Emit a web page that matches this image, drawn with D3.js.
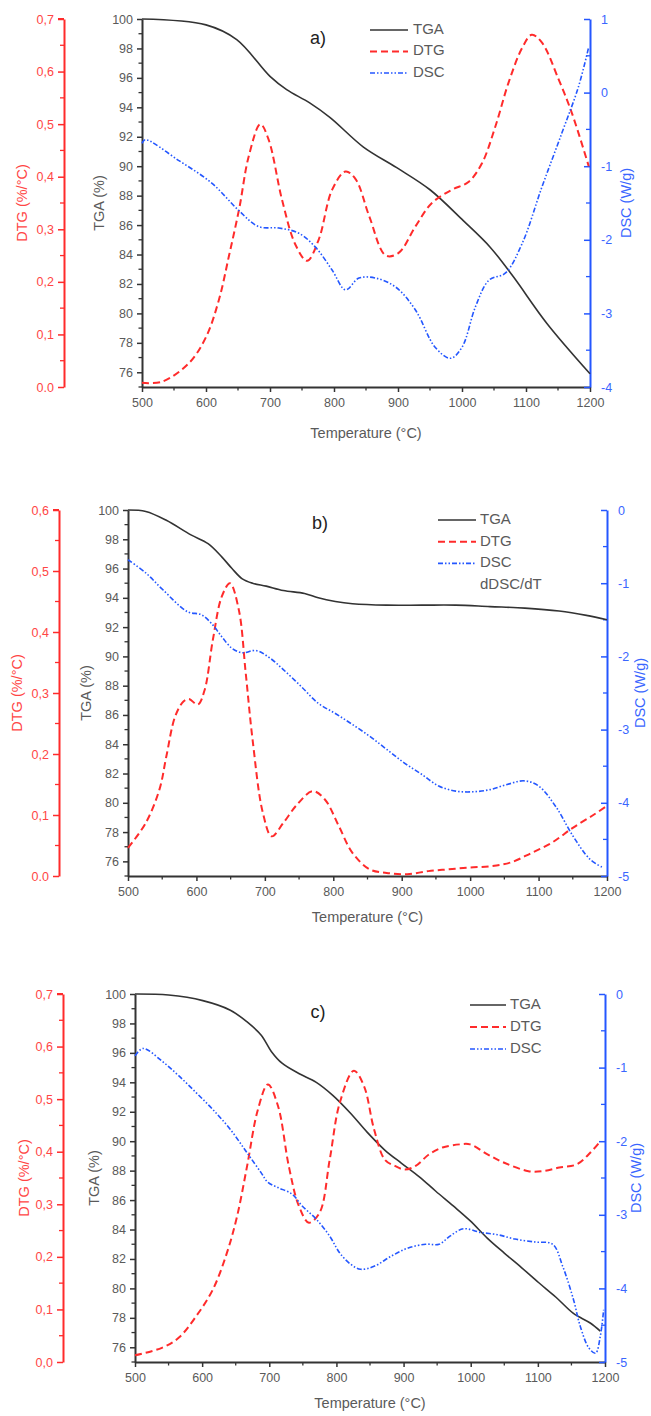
<!DOCTYPE html>
<html>
<head>
<meta charset="utf-8">
<script src="https://cdn.jsdelivr.net/npm/d3@7.9.0/dist/d3.min.js"></script>
<style>
  body { margin: 0; background: #fff; }
  svg { display: block; font-family: "Liberation Sans", Arial, sans-serif; }
</style>
</head>
<body>
<svg id="chart" width="651" height="1416"></svg>
<script>
// ---- data: [temperature °C, value] ----
const tgaA = [[500,100],[600,99.6],[648,98.6],[700,96.1],[726,95.2],[762,94.3],[794,93.3],[846,91.3],[898,89.9],[950,88.4],[1002,86.3],[1044,84.5],[1080,82.5],[1133,79.3],[1200,75.9]];
const dtgA = [[500,0.008],[531,0.01],[573,0.045],[600,0.095],[620,0.165],[636,0.25],[652,0.34],[667,0.44],[685,0.50],[698,0.47],[719,0.355],[740,0.27],[758,0.24],[776,0.28],[797,0.375],[818,0.41],[834,0.395],[855,0.325],[881,0.25],[901,0.255],[927,0.305],[953,0.35],[984,0.375],[1010,0.39],[1031,0.425],[1052,0.495],[1073,0.58],[1094,0.645],[1109,0.67],[1125,0.655],[1151,0.585],[1172,0.52],[1198,0.42]];
const dscA = [[500,-0.69],[505,-0.64],[557,-0.92],[609,-1.23],[651,-1.6],[682,-1.82],[714,-1.84],[745,-1.91],[771,-2.1],[797,-2.41],[818,-2.68],[839,-2.52],[865,-2.52],[896,-2.64],[927,-2.95],[958,-3.46],[982,-3.61],[1000,-3.46],[1021,-2.91],[1042,-2.55],[1068,-2.45],[1094,-2.05],[1125,-1.28],[1156,-0.55],[1182,0.08],[1198,0.62]];

const tgaB = [[500,100],[526,99.9],[556,99.3],[592,98.3],[617,97.7],[637,96.8],[652,96.0],[667,95.3],[682,95.0],[702,94.8],[727,94.5],[758,94.3],[778,94.0],[803,93.75],[828,93.6],[878,93.5],[929,93.5],[979,93.5],[1029,93.4],[1080,93.3],[1130,93.1],[1170,92.8],[1200,92.5]];
const dtgB = [[500,0.046],[526,0.087],[546,0.142],[556,0.196],[569,0.262],[581,0.286],[589,0.29],[602,0.281],[612,0.305],[624,0.387],[637,0.458],[649,0.48],[662,0.436],[672,0.333],[682,0.224],[697,0.104],[710,0.065],[727,0.087],[747,0.117],[770,0.139],[788,0.125],[808,0.082],[828,0.038],[853,0.011],[878,0.005],[908,0.003],[939,0.008],[969,0.011],[999,0.014],[1029,0.016],[1059,0.022],[1090,0.038],[1120,0.055],[1150,0.079],[1180,0.10],[1200,0.115]];
const dscB = [[500,-0.68],[526,-0.86],[551,-1.09],[587,-1.39],[607,-1.43],[622,-1.55],[637,-1.73],[652,-1.89],[667,-1.95],[687,-1.92],[707,-2.02],[727,-2.18],[753,-2.41],[778,-2.64],[803,-2.78],[828,-2.93],[853,-3.09],[878,-3.27],[903,-3.45],[929,-3.61],[954,-3.77],[979,-3.84],[1004,-3.85],[1029,-3.82],[1054,-3.75],[1079,-3.70],[1100,-3.77],[1125,-4.05],[1150,-4.45],[1175,-4.77],[1195,-4.89]];

const tgaC = [[500,100],[550,99.93],[601,99.55],[642,98.9],[667,98.1],[688,97.2],[703,96.1],[719,95.3],[744,94.6],[770,94.0],[795,93.1],[821,91.9],[846,90.6],[872,89.4],[897,88.5],[923,87.6],[948,86.6],[974,85.6],[999,84.6],[1025,83.4],[1050,82.4],[1076,81.4],[1101,80.4],[1127,79.4],[1153,78.3],[1178,77.65],[1193,77.1]];
const dtgC = [[500,0.0127],[540,0.027],[565,0.046],[591,0.087],[616,0.138],[637,0.208],[652,0.277],[667,0.373],[683,0.48],[698,0.528],[713,0.487],[729,0.373],[744,0.297],[759,0.265],[775,0.284],[790,0.385],[805,0.493],[826,0.554],[841,0.525],[856,0.443],[872,0.385],[887,0.373],[902,0.366],[918,0.373],[938,0.395],[958,0.408],[984,0.414],[999,0.414],[1025,0.395],[1050,0.379],[1086,0.363],[1107,0.363],[1132,0.37],[1158,0.376],[1178,0.398],[1193,0.42]];
const dscC = [[500,-0.84],[512,-0.74],[540,-0.91],[565,-1.11],[591,-1.34],[616,-1.57],[642,-1.84],[667,-2.16],[688,-2.43],[698,-2.56],[713,-2.63],[734,-2.72],[749,-2.88],[770,-3.06],[790,-3.29],[805,-3.52],[821,-3.67],[836,-3.74],[856,-3.70],[882,-3.56],[907,-3.45],[933,-3.40],[953,-3.40],[969,-3.29],[989,-3.19],[1015,-3.24],[1040,-3.27],[1066,-3.33],[1096,-3.37],[1122,-3.40],[1137,-3.70],[1153,-4.15],[1163,-4.51],[1176,-4.81],[1186,-4.88],[1193,-4.65],[1198,-4.29]];

// ---- tick labels ----
const tempTicks = [500, 600, 700, 800, 900, 1000, 1100, 1200];
const tgaTicks = [76, 78, 80, 82, 84, 86, 88, 90, 92, 94, 96, 98, 100];
const dtgTicks7 = [0, 0.1, 0.2, 0.3, 0.4, 0.5, 0.6, 0.7];
const dtgLabelsA = ["0.0", "0,1", "0,2", "0,3", "0,4", "0,5", "0,6", "0,7"];
const dtgTicks6 = [0, 0.1, 0.2, 0.3, 0.4, 0.5, 0.6];
const dtgLabelsB = ["0.0", "0,1", "0,2", "0,3", "0,4", "0,5", "0,6"];
const dtgLabelsC = ["0,0", "0,1", "0,2", "0,3", "0,4", "0,5", "0,6", "0,7"];
const dscTicksA = [-4, -3, -2, -1, 0, 1];
const dscTicksBC = [-5, -4, -3, -2, -1, 0];
const legendA = ["TGA", "DTG", "DSC"];
const legendB = ["TGA", "DTG", "DSC", "dDSC/dT"];

const RED = '#ff2b2b', BLUE = '#2457ff', DARK = '#333', GREY = '#5a5a5a';
const svg = d3.select('#chart');
const plain = d => String(d);   // "-1", "1000": no unicode minus, no thousands comma

const panels = [
    { name: 'a)', tga: tgaA, dtg: dtgA, dsc: dscA, dtgMax: 0.7, dtgTicks: dtgTicks7, dtgLabels: dtgLabelsA,
      dscDomain: [-4, 1], dscTicks: dscTicksA, legend: legendA,
      left: 142, right: 590, top: 19, bottom: 387, dtgX: 64, tgaTitleX: 100, dtgTitleX: 23, dscTitleX: 627,
      xTitleY: 434, letter: [318, 44], leg: { x1: 370, x2: 408, tx: 413, y0: 30, dy: 21.5 } },
    { name: 'b)', tga: tgaB, dtg: dtgB, dsc: dscB, dtgMax: 0.6, dtgTicks: dtgTicks6, dtgLabels: dtgLabelsB,
      dscDomain: [-5, 0], dscTicks: dscTicksBC, legend: legendB,
      left: 128, right: 607, top: 510, bottom: 876, dtgX: 59, tgaTitleX: 87, dtgTitleX: 18, dscTitleX: 641,
      xTitleY: 918, letter: [320, 529], leg: { x1: 438, x2: 476, tx: 480, y0: 520, dy: 21.7 } },
    { name: 'c)', tga: tgaC, dtg: dtgC, dsc: dscC, dtgMax: 0.7, dtgTicks: dtgTicks7, dtgLabels: dtgLabelsC,
      dscDomain: [-5, 0], dscTicks: dscTicksBC, legend: legendA,
      left: 135, right: 605, top: 994, bottom: 1362, dtgX: 63, tgaTitleX: 95, dtgTitleX: 25, dscTitleX: 637,
      xTitleY: 1404, letter: [318, 1018], leg: { x1: 470, x2: 506, tx: 510, y0: 1005, dy: 22 } }
];

function styleAxis(g, color, textColor) {
    g.select('.domain').attr('stroke', color).attr('stroke-width', 2);
    g.selectAll('.tick line').attr('stroke', color).attr('stroke-width', 1.5);
    g.selectAll('.tick text').attr('fill', textColor).style('font-size', '12.5px');
}

function minorTicks(g, values, scale, color, len, vertical, pos) {
    g.selectAll(null).data(values).join('line')
        .attr('stroke', color).attr('stroke-width', 1.3)
        .attr(vertical ? 'x1' : 'y1', pos)
        .attr(vertical ? 'x2' : 'y2', pos + len)
        .attr(vertical ? 'y1' : 'x1', scale)
        .attr(vertical ? 'y2' : 'x2', scale);
}

panels.forEach((p) => {
    const g = svg.append('g');
    const x = d3.scaleLinear().domain([500, 1200]).range([p.left, p.right]);
    const yT = d3.scaleLinear().domain([75, 100]).range([p.bottom, p.top]);
    const yD = d3.scaleLinear().domain([0, p.dtgMax]).range([p.bottom, p.top]);
    const yS = d3.scaleLinear().domain(p.dscDomain).range([p.bottom, p.top]);

    // minor ticks
    const mg = g.append('g');
    minorTicks(mg, d3.range(550, 1200, 100), x, DARK, 3.5, false, p.bottom);
    minorTicks(mg, d3.range(75, 100, 2), yT, DARK, -3.5, true, p.left);
    minorTicks(mg, d3.range(0.05, p.dtgMax, 0.1), yD, RED, -4, true, p.dtgX);
    minorTicks(mg, d3.range(p.dscDomain[0] + 0.5, p.dscDomain[1], 1), yS, BLUE, -4, true, p.right);

    // axes
    g.append('g').attr('transform', `translate(0,${p.bottom})`)
        .call(d3.axisBottom(x).tickValues(tempTicks).tickFormat(plain).tickSize(5).tickPadding(6).tickSizeOuter(0))
        .call(a => styleAxis(a, DARK, GREY));
    g.append('g').attr('transform', `translate(${p.left},0)`)
        .call(d3.axisLeft(yT).tickValues(tgaTicks).tickFormat(plain).tickSize(5).tickPadding(4).tickSizeOuter(0))
        .call(a => styleAxis(a, DARK, GREY));
    g.append('g').attr('transform', `translate(${p.dtgX},0)`)
        .call(d3.axisLeft(yD).tickValues(p.dtgTicks).tickFormat((d, i) => p.dtgLabels[i]).tickSize(6).tickPadding(4).tickSizeOuter(0))
        .call(a => styleAxis(a, RED, '#ff4545'));
    g.append('g').attr('transform', `translate(${p.right},0)`)
        .call(d3.axisRight(yS).tickValues(p.dscTicks).tickFormat(plain).tickSize(-6).tickPadding(11).tickSizeOuter(0))
        .call(a => styleAxis(a, BLUE, '#3a66ff'));
    // end tick at the top of the DTG axis
    g.append('line').attr('x1', p.dtgX - 6).attr('x2', p.dtgX).attr('y1', p.top).attr('y2', p.top)
        .attr('stroke', RED).attr('stroke-width', 2);

    // axis titles
    const title = (txt, tx, ty, color, rot) => g.append('text')
        .attr('transform', `translate(${tx},${ty})` + (rot ? ' rotate(-90)' : ''))
        .attr('text-anchor', 'middle').attr('dominant-baseline', 'middle')
        .attr('fill', color).style('font-size', '14.5px').text(txt);
    const midY = (p.top + p.bottom) / 2;
    title('TGA (%)', p.tgaTitleX, midY, GREY, true);
    title('DTG (%/°C)', p.dtgTitleX, midY, '#ff4545', true);
    title('DSC (W/g)', p.dscTitleX, midY, '#3a66ff', true);
    title('Temperature  (°C)', (p.left + p.right) / 2, p.xTitleY, GREY, false);

    g.append('text').attr('x', p.letter[0]).attr('y', p.letter[1])
        .attr('text-anchor', 'middle').attr('fill', '#222').style('font-size', '18px').text(p.name);

    // curves
    const line = (ys) => d3.line().x(d => x(d[0])).y(d => ys(d[1])).curve(d3.curveCatmullRom.alpha(0.5));
    const styles = [
        { data: p.tga, y: yT, color: DARK, dash: null, w: 1.6 },
        { data: p.dtg, y: yD, color: RED, dash: '7,4', w: 2 },
        { data: p.dsc, y: yS, color: BLUE, dash: '5,2,1.5,2,1.5,2', w: 1.6 }
    ];
    styles.forEach(s => {
        g.append('path').datum(s.data).attr('d', line(s.y))
            .attr('fill', 'none').attr('stroke', s.color).attr('stroke-width', s.w)
            .attr('stroke-dasharray', s.dash);
    });

    // legend
    const lg = g.append('g');
    p.legend.forEach((name, i) => {
        const yy = p.leg.y0 + i * p.leg.dy;
        if (i < styles.length) {
            lg.append('line').attr('x1', p.leg.x1).attr('x2', p.leg.x2).attr('y1', yy).attr('y2', yy)
                .attr('stroke', styles[i].color).attr('stroke-width', styles[i].w)
                .attr('stroke-dasharray', styles[i].dash);
        }
        lg.append('text').attr('x', p.leg.tx).attr('y', yy).attr('dominant-baseline', 'middle')
            .attr('fill', GREY).style('font-size', '15px').text(name);
    });
});
</script>
</body>
</html>
